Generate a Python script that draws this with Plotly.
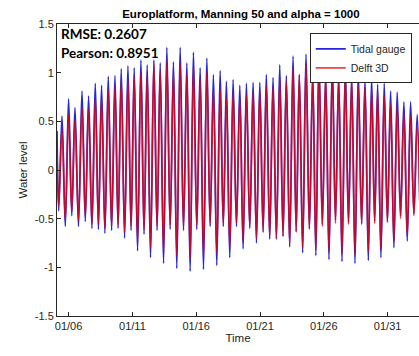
import pandas as pd
import plotly.graph_objects as go

# Time base: hours are counted from 2015-01-05 00:00
BASE = pd.Timestamp("2015-01-05 00:00")

# Time of the first sample (h) and its values
start_hour = 2.2
gauge_start = 0.40
delft_start = 0.18

# High-water times (h)
high_hours = [11.6, 24.0, 36.0, 49.2, 61.6, 74.2, 86.0, 98.6, 111.2, 123.0,
              135.6, 147.4, 160.0, 171.8, 184.4, 196.3, 208.8, 221.2, 233.8, 246.4,
              258.8, 271.4, 284.0, 296.4, 309.0, 320.8, 333.4, 346.0, 358.4, 371.0,
              383.6, 395.9, 408.5, 421.1, 433.5, 446.1, 457.9, 470.5, 483.1, 494.9,
              507.5, 519.9, 531.9, 544.4, 556.4, 568.8, 581.4, 593.9, 605.2, 617.6,
              629.6, 642.0, 654.6, 667.2, 679.6]

# Low-water times (h); one before each high water plus one after the last
low_hours = [5.4, 17.8, 30.0, 42.6, 55.4, 67.9, 80.1, 92.3, 104.9, 117.1,
             129.3, 141.5, 153.7, 165.9, 178.1, 190.4, 202.6, 215.0, 227.5, 240.1,
             252.6, 265.1, 277.7, 290.2, 302.7, 314.9, 327.1, 339.7, 352.2, 364.7,
             377.3, 389.8, 402.2, 414.8, 427.3, 439.8, 452.0, 464.2, 476.8, 489.0,
             501.2, 513.7, 525.9, 538.2, 550.4, 562.6, 575.1, 587.7, 599.6, 611.4,
             623.6, 635.8, 648.3, 660.9, 673.4, 685.8]

# Tidal gauge: high and low water levels (m)
gauge_high = [0.555, 0.73, 0.64, 0.81, 0.76, 0.89, 0.87, 0.96, 0.97, 1.04,
              1.07, 1.05, 1.13, 1.08, 1.13, 1.10, 1.26, 1.11, 1.26, 1.10,
              1.21, 1.05, 1.15, 0.98, 1.02, 0.91, 0.93, 0.87, 0.89, 0.90,
              0.90, 0.98, 0.95, 1.08, 0.97, 1.17, 0.98, 1.19, 0.99, 1.17,
              0.98, 1.11, 0.97, 1.07, 0.97, 1.01, 0.93, 0.95, 0.88, 0.89,
              0.81, 0.80, 0.70, 0.70, 0.57]
gauge_low = [-0.42, -0.58, -0.47, -0.58, -0.53, -0.60, -0.61, -0.65, -0.62, -0.60,
             -0.70, -0.62, -0.83, -0.66, -0.90, -0.62, -0.96, -0.61, -1.01, -0.62,
             -1.04, -0.61, -1.02, -0.58, -0.98, -0.58, -0.90, -0.58, -0.81, -0.60,
             -0.75, -0.64, -0.71, -0.71, -0.68, -0.79, -0.63, -0.85, -0.60, -0.88,
             -0.56, -0.92, -0.52, -0.94, -0.54, -0.96, -0.55, -0.93, -0.53, -0.90,
             -0.53, -0.80, -0.47, -0.73, -0.45, -0.75]

# Delft 3D: high and low water levels (m)
delft_high = [0.42, 0.57, 0.52, 0.65, 0.62, 0.73, 0.73, 0.82, 0.85, 0.92,
              0.93, 0.95, 1.00, 0.98, 1.10, 1.00, 1.12, 1.00, 1.10, 0.98,
              1.05, 0.92, 1.00, 0.81, 0.83, 0.74, 0.80, 0.73, 0.78, 0.80,
              0.81, 0.86, 0.85, 0.93, 0.91, 1.05, 0.98, 1.09, 0.99, 1.09,
              0.97, 1.04, 0.95, 1.00, 0.93, 0.86, 0.85, 0.83, 0.80, 0.76,
              0.68, 0.66, 0.58, 0.55, 0.47]
delft_low = [-0.37, -0.52, -0.43, -0.52, -0.48, -0.55, -0.56, -0.60, -0.57, -0.57,
             -0.64, -0.58, -0.74, -0.62, -0.80, -0.58, -0.85, -0.57, -0.88, -0.58,
             -0.90, -0.57, -0.88, -0.55, -0.85, -0.55, -0.80, -0.55, -0.74, -0.58,
             -0.70, -0.62, -0.68, -0.70, -0.68, -0.76, -0.64, -0.80, -0.61, -0.82,
             -0.58, -0.84, -0.55, -0.86, -0.56, -0.87, -0.56, -0.84, -0.55, -0.82,
             -0.54, -0.74, -0.50, -0.68, -0.47, -0.68]

rmse = 0.2607
pearson = 0.8951

x_start_hour = start_hour
x_end_hour = 683.0


def series(first, lows, highs):
    """Interleave low and high waters into one time series."""
    hours = [start_hour]
    vals = [first]
    for i in range(len(highs)):
        hours += [low_hours[i], high_hours[i]]
        vals += [lows[i], highs[i]]
    hours.append(low_hours[-1])
    vals.append(lows[-1])
    times = BASE + pd.to_timedelta(hours, unit="h")
    return times, vals


t_g, v_g = series(gauge_start, gauge_low, gauge_high)
t_d, v_d = series(delft_start, delft_low, delft_high)

AX = "#262626"
FONT = "Liberation Sans, Arial, sans-serif"

fig = go.Figure()
fig.add_trace(go.Scatter(x=t_g, y=v_g, mode="lines", name="Tidal gauge",
                         line=dict(color="#2626d8", width=1.7, shape="spline")))
fig.add_trace(go.Scatter(x=t_d, y=v_d, mode="lines", name="Delft 3D",
                         line=dict(color="#f00000", width=1.7, shape="spline"),
                         opacity=0.75))

fig.update_layout(
    width=419, height=356,
    margin=dict(l=57, r=0, t=24, b=40),
    paper_bgcolor="white", plot_bgcolor="white",
    font=dict(family=FONT, size=11, color=AX),
    title=dict(text="<b>Europlatform, Manning 50 and alpha = 1000</b>",
               x=0.508, xref="paper", xanchor="center",
               y=1 - 14 / 356, yanchor="middle",
               font=dict(size=11.5, color="#000000")),
    showlegend=True,
    legend=dict(x=0.98, xanchor="right", y=0.968, yanchor="top",
                bgcolor="white", bordercolor=AX, borderwidth=1,
                font=dict(size=10.5, color=AX), tracegroupgap=0,
                itemwidth=30),
    xaxis=dict(
        type="date",
        range=[BASE + pd.Timedelta(hours=x_start_hour),
               BASE + pd.Timedelta(hours=x_end_hour)],
        tick0="2015-01-06", dtick=5 * 86400000, tickformat="%m/%d",
        ticks="inside", ticklen=4, tickcolor=AX,
        showline=True, linecolor=AX, linewidth=1, mirror="ticks",
        showgrid=False, zeroline=False,
        title=dict(text="Time", standoff=1, font=dict(size=11.5)),
        tickfont=dict(size=11),
    ),
    yaxis=dict(
        range=[-1.5, 1.5],
        tickvals=[-1.5, -1, -0.5, 0, 0.5, 1, 1.5],
        ticktext=["-1.5", "-1", "-0.5", "0", "0.5", "1", "1.5"],
        ticks="inside", ticklen=4, tickcolor=AX,
        showline=True, linecolor=AX, linewidth=1, mirror=False,
        showgrid=False, zeroline=False,
        title=dict(text="Water level", standoff=4, font=dict(size=11.5)),
        tickfont=dict(size=11),
    ),
)

fig.add_annotation(xref="paper", yref="paper", x=0.006, y=(315.7 - 34) / 292,
                   xanchor="left", yanchor="middle", showarrow=False,
                   text=f"<b>RMSE: {rmse:.4f}</b>",
                   font=dict(family="Lato, Calibri, sans-serif", size=13.5, color="#000000"))
fig.add_annotation(xref="paper", yref="paper", x=0.006, y=(315.7 - 53) / 292,
                   xanchor="left", yanchor="middle", showarrow=False,
                   text=f"<b>Pearson: {pearson:.4f}</b>",
                   font=dict(family="Lato, Calibri, sans-serif", size=13.5, color="#000000"))

fig.write_html("out.html")
